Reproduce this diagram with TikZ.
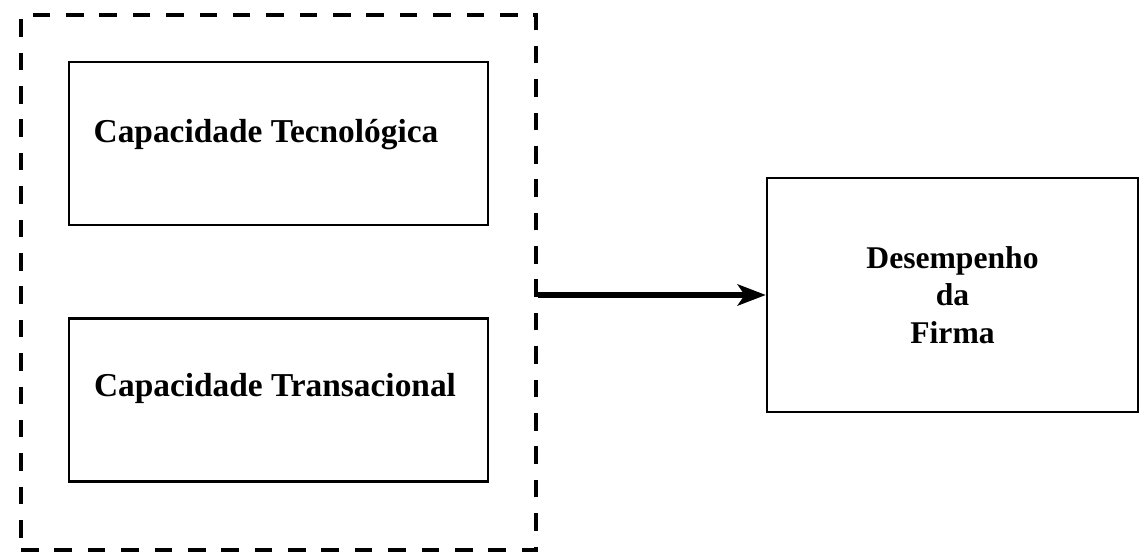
\documentclass[tikz,border=0pt]{standalone}
\usepackage{fontspec}
\setmainfont{Liberation Serif}
\usetikzlibrary{arrows.meta}
\begin{document}
\begin{tikzpicture}[
    x=0.02cm, y=-0.02cm,
    capbox/.style={rectangle, draw, line width=1.2pt, minimum width=8.38cm, minimum height=3.26cm, font=\fontsize{19}{22}\selectfont\bfseries},
    firmbox/.style={rectangle, draw, line width=1.4pt, minimum width=7.42cm, minimum height=4.68cm, align=center, font=\fontsize{18}{21.5}\selectfont\bfseries},
    group/.style={draw, line width=2.4pt, dash pattern=on 10pt off 9pt},
    arrow/.style={-{Stealth[length=16pt, width=12pt, inset=4pt]}, line width=3pt}
]

% Canvas
\useasboundingbox (0,0) rectangle (1140,557);

% Group of capacities
\node[group, minimum width=10.3cm, minimum height=10.7cm] (grupo) at (278.5,282.5) {};

% Capacities
\node[capbox] (tecno) at (278.5,143.5) {};
\node[capbox] (trans) at (278.5,400) {};
\node[font=\fontsize{19}{22}\selectfont\bfseries] (tecnotxt) at (266,135) {Capacidade Tecnológica};
\node[font=\fontsize{19}{22}\selectfont\bfseries] (transtxt) at (275,388) {Capacidade Transacional};

% Outcome
\node[firmbox] (desemp) at (952.5,295) {Desempenho\\da\\Firma};

% Effect
\draw[arrow] (grupo.east |- desemp.west) -- (desemp.west);

\end{tikzpicture}
\end{document}
